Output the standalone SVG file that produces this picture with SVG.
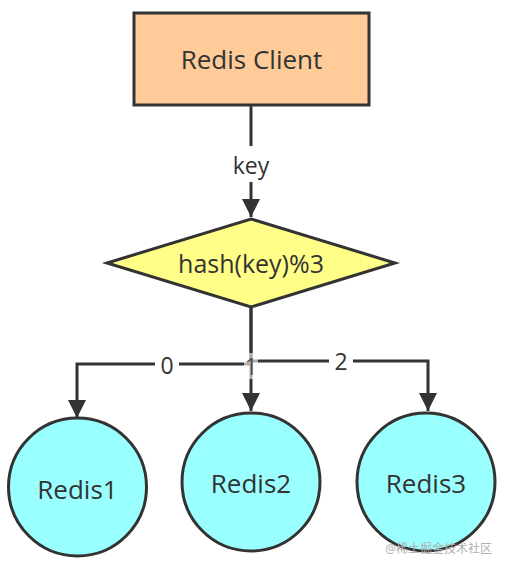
<svg xmlns="http://www.w3.org/2000/svg" width="507" height="569" viewBox="0 0 507 569">
<defs>
<style>
.lbl{font-family:"Open Sans","Noto Sans","DejaVu Sans",sans-serif;fill:#333;text-anchor:middle}
.node{stroke:#333;stroke-width:3}
.edge{fill:none;stroke:#333;stroke-width:3}
.elbl{font-family:"Open Sans","Noto Sans","DejaVu Sans",sans-serif;font-size:23px;fill:#333;text-anchor:middle}
</style>
<marker id="arr" viewBox="0 0 10 10" refX="10" refY="5" markerWidth="6.5" markerHeight="6" markerUnits="strokeWidth" orient="auto">
<path d="M0,0 L10,5 L0,10 Z" fill="#333"/>
</marker>
</defs>
<rect width="507" height="569" fill="#fff"/>
<g id="edges">
<path class="edge" d="M251,106 V217" marker-end="url(#arr)"/>
<rect x="230" y="146" width="42" height="36" fill="#fff"/>
<text class="elbl" x="251" y="174">key</text>
<path class="edge" d="M251,308 V364 H77 V418" marker-end="url(#arr)"/>
<path class="edge" d="M251,308 V361 H428 V411" marker-end="url(#arr)"/>
<path class="edge" d="M251,361 V411" marker-end="url(#arr)"/>
<rect x="155" y="350" width="24" height="30" fill="#fff"/>
<text class="elbl" x="167" y="374">0</text>
<rect x="329" y="346" width="24" height="30" fill="#fff"/>
<text class="elbl" x="341" y="370">2</text>
<rect x="244" y="353" width="14" height="26" fill="#fff" opacity="0.6"/>
<text class="elbl" x="251" y="375" fill-opacity="0.8">1</text>
</g>
<g id="client">
<rect class="node" x="134" y="13" width="235" height="92" fill="#ffcc99"/>
<text class="lbl" x="251.5" y="69" font-size="26">Redis Client</text>
</g>
<g id="hash">
<polygon class="node" points="251,219 395,263 251,307 107,263" fill="#ffff88"/>
<text class="lbl" x="251" y="273" font-size="25">hash(key)%3</text>
</g>
<g id="redis1">
<circle class="node" cx="77.5" cy="487" r="69" fill="#99ffff"/>
<text class="lbl" x="77.5" y="499" font-size="26">Redis1</text>
</g>
<g id="redis2">
<circle class="node" cx="251" cy="482" r="69" fill="#99ffff"/>
<text class="lbl" x="251" y="493" font-size="26">Redis2</text>
</g>
<g id="redis3">
<circle class="node" cx="426" cy="482" r="69" fill="#99ffff"/>
<text class="lbl" x="426" y="493" font-size="26">Redis3</text>
</g>
<text x="492" y="553" font-family="'Noto Sans','Noto Sans CJK SC',sans-serif" font-size="12" fill="#b0b0b0" text-anchor="end">@稀土掘金技术社区</text>
</svg>
